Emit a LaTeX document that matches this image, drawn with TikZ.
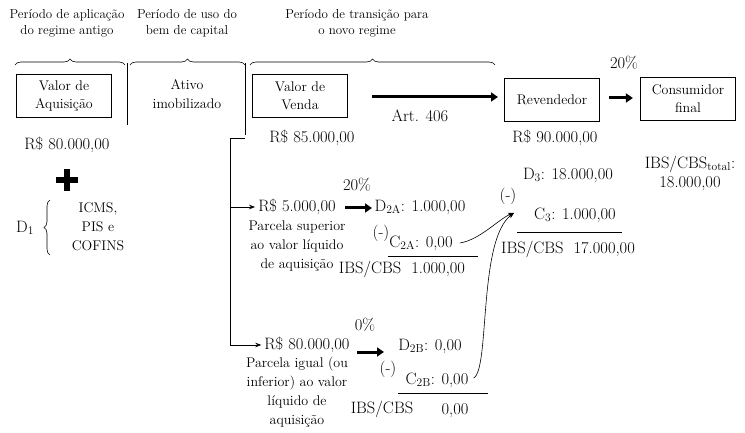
\documentclass[tikz,border=0pt]{standalone}
\usetikzlibrary{decorations.pathreplacing,arrows.meta}
\newcommand{\sbx}[1]{\textsubscript{#1}}
\begin{document}
\begin{tikzpicture}[x=1pt,y=-1pt,
 hdr/.style={font=\fontsize{13}{16}\selectfont,align=center},
 txt/.style={font=\fontsize{16.5}{19}\selectfont,inner sep=0pt},
 sm/.style={font=\fontsize{14}{19}\selectfont,align=center,inner sep=0pt},
 box/.style={draw,line width=0.8pt,minimum width=95pt,minimum height=43pt,align=center,font=\fontsize{14}{18}\selectfont},
 brc/.style={decorate,decoration={brace,amplitude=6pt},line width=0.6pt},
 bigarr/.style={-{Triangle[length=7pt,width=9pt]},line width=3pt},
 thin/.style={-{Stealth[length=6pt]},line width=0.6pt}]
\useasboundingbox (0,0) rectangle (745,433);
% headers
\node[hdr] (h1) at (67,23) {Período de aplicação\\do regime antigo};
\node[hdr] (h2) at (187,23) {Período de uso do\\bem de capital};
\node[hdr] (h3) at (357,23) {Período de transição para\\o novo regime};
\draw[brc] (15,65) -- (125,65);
\draw[brc] (130,65) -- (245,65);
\draw[brc] (250,65) -- (495,65);
\draw[line width=0.6pt] (127,63) -- (127,125);
\draw[line width=0.6pt] (245,63) -- (245,135);
% boxes
\node[box] (va) at (64,96) {Valor de\\Aquisição};
\node[sm] (ai) at (187,94) {Ativo\\imobilizado};
\node[box] (vv) at (300,96) {Valor de\\Venda};
\node[box] (rev) at (552,100) {Revendedor};
\node[box] (cf) at (688,99) {Consumidor\\final};
\draw[bigarr] (372,97) -- (498,97);
\node[txt] (art) at (420,116) {Art. 406};
\draw[bigarr] (rev.east)+(9,-2) coordinate (r1) -- ++(33,-2) coordinate (r2);
\node[txt] (p20) at (624,63) {20\%};
% values
\node[txt] (v85) at (312,138) {R\$ 85.000,00};
\node[txt] (v90) at (555,138) {R\$ 90.000,00};
\node[txt] (v80) at (67,145) {R\$ 80.000,00};
\coordinate (plus) at (67,180);
\draw[line width=6pt] ([xshift=-11pt]plus) -- ([xshift=11pt]plus);
\draw[line width=6pt] ([yshift=-11pt]plus) -- ([yshift=11pt]plus);
\node[txt] (d1) at (25,228) {D\sbx{1}};
\draw[brc] (50,255) -- (50,200);
\node[sm] (icms) at (98,227) {ICMS,\\PIS e\\COFINS};
\node[txt,align=center] (tot) at (690,173) {IBS/CBS\sbx{total}:\\18.000,00};
% tree
\coordinate (t0) at (230,138);
\coordinate (t1) at (230,207);
\coordinate (t2) at (230,345);
\draw[line width=0.6pt] (245,138) -- (t0) -- (t2);
\node[txt] (v5) at (297,207) {R\$ 5.000,00};
\node[txt] (v80b) at (307,345) {R\$ 80.000,00};
\draw[thin] (t1) -- ([xshift=-3pt]v5.west);
\draw[thin] (t2) -- ([xshift=-3pt]v80b.west);
\node[sm] (pa) at (297,246) {Parcela superior\\ao valor líquido\\de aquisição};
\node[sm] (pb) at (297,392) {Parcela igual (ou\\inferior) ao valor\\líquido de\\aquisição};
% branch A
\draw[bigarr] (345,208) -- (372,208);
\node[txt] (pa20) at (357,185) {20\%};
\node[txt] (d2a) at (420,207) {D\sbx{2A}: 1.000,00};
\node[txt] (ma) at (381,233) {(-)};
\node[txt] (c2a) at (421,243) {C\sbx{2A}: 0,00};
\draw[line width=0.8pt] (388,256) -- (478,256);
\node[txt] (ia) at (402,269) {IBS/CBS\ \ 1.000,00};
% branch B
\draw[bigarr] (357,352) -- (384,352);
\node[txt] (pb0) at (365,325) {0\%};
\node[txt] (d2b) at (430,346) {D\sbx{2B}: 0,00};
\node[txt] (mb) at (388,369) {(-)};
\node[txt] (c2b) at (437,380) {C\sbx{2B}: 0,00};
\draw[line width=0.8pt] (398,393) -- (488,393);
\node[txt] (ib1) at (382,409) {IBS/CBS};
\node[txt] (ib2) at (455,411) {0,00};
% branch 3
\node[txt] (d3) at (568,175) {D\sbx{3}: 18.000,00};
\node[txt] (m3) at (508,196) {(-)};
\node[txt] (c3) at (575,215) {C\sbx{3}: 1.000,00};
\draw[line width=0.8pt] (517,232) -- (622,232);
\node[txt] (i3) at (568,249) {IBS/CBS\ \ 17.000,00};
\coordinate (tgt) at (514,213);
\draw[thin] (c2a.east)+(7,0) .. controls +(20,-3) and (500,218) .. (tgt);
\draw[thin] (c2b.east)+(5,-2) .. controls (490,370) and (478,240) .. (tgt);
\end{tikzpicture}
\end{document}
